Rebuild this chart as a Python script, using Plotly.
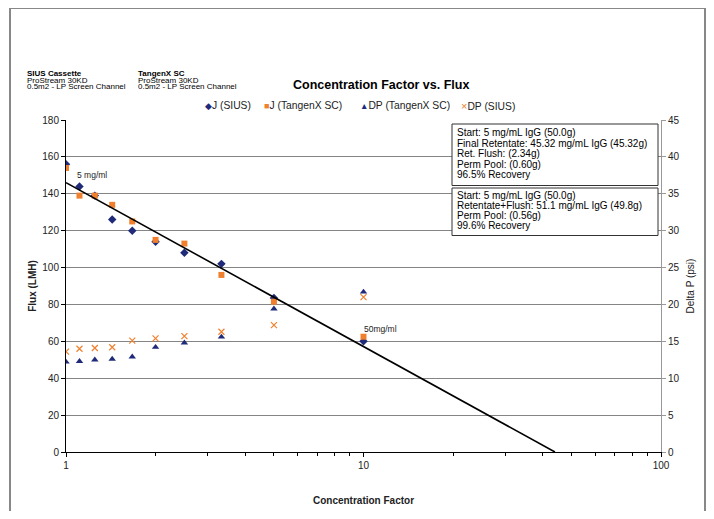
import plotly.graph_objects as go

# ---------------- data ----------------
conc_factor = [1, 1.11, 1.25, 1.43, 1.67, 2, 2.5, 3.33, 5, 10]
j_sius = [156, 144, 139, 126, 120, 114, 108, 102, 83.5, 60]
j_tangenx = [154, 139, 139, 134, 125, 115, 113, 96, 81.5, 62.5]
dp_tangenx = [12.2, 12.3, 12.5, 12.6, 12.9, 14.2, 14.8, 15.6, 19.4, 21.7]
dp_sius = [13.6, 14.0, 14.1, 14.2, 15.1, 15.4, 15.7, 16.3, 17.2, 21.0]
trend_cf = [1, 44]
trend_flux = [146, 0]

x_tick_vals = [1, 10, 100]
x_tick_text = ["1", "10", "100"]
x_minor_vals = [2, 3, 4, 5, 6, 7, 8, 9, 20, 30, 40, 50, 60, 70, 80, 90]

series_names = ["J (SIUS)", "J (TangenX SC)", "DP (TangenX SC)", "DP (SIUS)"]
legend_glyphs = ["\u25C6", "\u25A0", "\u25B2", "\u00D7"]

box1_lines = ["Start: 5 mg/mL IgG (50.0g)",
              "Final Retentate: 45.32 mg/mL IgG (45.32g)",
              "Ret. Flush: (2.34g)",
              "Perm Pool: (0.60g)",
              "96.5% Recovery"]
box2_lines = ["Start: 5 mg/mL IgG (50.0g)",
              "Retentate+Flush: 51.1 mg/mL IgG (49.8g)",
              "Perm Pool: (0.56g)",
              "99.6% Recovery"]
siu_lines = ["<b>SIUS Cassette</b>", "ProStream 30KD", "0.5m2 - LP Screen Channel"]
tgx_lines = ["<b>TangenX SC</b>", "ProStream 30KD", "0.5m2 - LP Screen Channel"]

FONT = "Liberation Sans, Arial, sans-serif"
NAVY = "#1f2a78"
ORANGE = "#f0802e"
colors = [NAVY, ORANGE, NAVY, ORANGE]
glyph_sizes = [9, 9, 8.5, 11]

# page is rendered with an 8px body margin
OFF = 8
FW, FH = 714 - OFF, 519 - 2 * OFF
PL, PR, PT, PB = 66, 661, 120, 452  # plot area in page pixels


def px(x):
    return (x - PL) / (PR - PL)


def py(y):
    return (PB - y) / (PB - PT)


fig = go.Figure()
fig.add_trace(go.Scatter(x=conc_factor, y=j_sius, mode="markers", name=series_names[0],
                         marker=dict(symbol="diamond", size=6.5, color=NAVY)))
fig.add_trace(go.Scatter(x=conc_factor, y=j_tangenx, mode="markers", name=series_names[1],
                         marker=dict(symbol="square", size=6, color=ORANGE)))
fig.add_trace(go.Scatter(x=conc_factor, y=dp_tangenx, mode="markers", name=series_names[2],
                         yaxis="y2", marker=dict(symbol="triangle-up", size=6.5, color=NAVY)))
fig.add_trace(go.Scatter(x=conc_factor, y=dp_sius, mode="markers", name=series_names[3],
                         yaxis="y2", marker=dict(symbol="x-thin", size=6, color=ORANGE,
                                                 line=dict(color=ORANGE, width=1.2))))
fig.add_trace(go.Scatter(x=trend_cf, y=trend_flux, mode="lines", name="Log. trend",
                         line=dict(color="black", width=1.6), hoverinfo="skip"))


def ann(text, x, y, size, xanchor="left", color="black"):
    return dict(text=text, x=px(x), y=py(y), xref="paper", yref="paper", showarrow=False,
                font=dict(size=size, color=color), xanchor=xanchor, yanchor="middle")


annotations = [ann("<b>Concentration Factor vs. Flux</b>", 381, 85, 12.5, "center")]
for i, (a, b) in enumerate(zip(siu_lines, tgx_lines)):
    yy = 73.3 + 6.8 * i
    annotations.append(ann(a, 25, yy, 8))
    annotations.append(ann(b, 136, yy, 8))

# legend row (symbol + name), drawn as text
legend_x = [203, 262, 358, 459]
for name, glyph, col, gs, lx in zip(series_names, legend_glyphs, colors, glyph_sizes, legend_x):
    annotations.append(ann(f"<span style='color:{col};font-size:{gs}px'>{glyph}</span>{name}",
                           lx, 106, 10.3, color="#222"))

# data labels
annotations.append(dict(text="5 mg/ml", x=0.03, y=150, xref="x", yref="y", showarrow=False,
                        font=dict(size=8.5, color="#222"), xanchor="left", yanchor="middle"))
annotations.append(dict(text="50mg/ml", x=0.995, y=66.5, xref="x", yref="y", showarrow=False,
                        font=dict(size=8.5, color="#222"), xanchor="left", yanchor="middle"))

# text boxes
for i, t in enumerate(box1_lines):
    annotations.append(ann(t, 455, 132.5 + 10.5 * i, 10))
for i, t in enumerate(box2_lines):
    annotations.append(ann(t, 455, 195.5 + 10.0 * i, 10))

shapes = [
    dict(type="rect", xref="paper", yref="paper", x0=px(10), x1=px(705), y0=py(540), y1=py(8),
         line=dict(color="#888", width=2), fillcolor="rgba(0,0,0,0)", layer="below"),
    dict(type="rect", xref="paper", yref="paper", x0=px(452), x1=px(658), y0=py(185.5), y1=py(124),
         line=dict(color="#333", width=1), fillcolor="white", layer="above"),
    dict(type="rect", xref="paper", yref="paper", x0=px(452), x1=px(658), y0=py(235.5), y1=py(188),
         line=dict(color="#333", width=1), fillcolor="white", layer="above"),
]

fig.update_layout(
    width=FW, height=FH,
    margin=dict(l=PL - OFF, r=FW - (PR - OFF), t=PT - OFF, b=FH - (PB - OFF)),
    paper_bgcolor="white", plot_bgcolor="white",
    font=dict(family=FONT, size=10, color="#222"),
    showlegend=False,
    xaxis=dict(type="log", range=[0, 2], tickvals=x_tick_vals, ticktext=x_tick_text,
               showgrid=False, showline=True, linecolor="black", linewidth=1,
               ticks="outside", ticklen=4, tickcolor="black", zeroline=False, automargin=False,
               minor=dict(tickvals=x_minor_vals, ticks="outside", ticklen=3, tickcolor="black"),
               title=dict(text="<b>Concentration Factor</b>", font=dict(size=10, color="#222"), standoff=26)),
    yaxis=dict(range=[0, 180], dtick=20, showgrid=True, gridcolor="#858585", gridwidth=1,
               showline=True, linecolor="black", linewidth=1, ticks="outside", ticklen=4,
               tickcolor="black", zeroline=False, automargin=False,
               title=dict(text="<b>Flux (LMH)</b>", font=dict(size=10, color="#222"), standoff=3)),
    yaxis2=dict(range=[0, 45], dtick=5, overlaying="y", side="right", showgrid=False,
                showline=True, linecolor="#999", linewidth=1, ticks="outside", ticklen=4,
                tickcolor="#999", zeroline=False, automargin=False,
                title=dict(text="Delta P (psi)", font=dict(size=10, color="#222"), standoff=8)),
    annotations=annotations,
    shapes=shapes,
)

fig.write_html("out.html")
